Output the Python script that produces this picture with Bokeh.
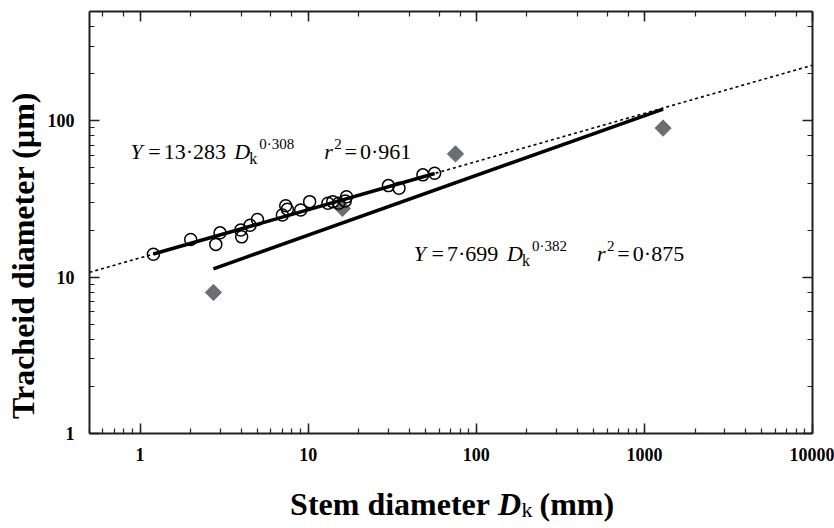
import numpy as np
from bokeh.plotting import figure
from bokeh.layouts import column
from bokeh.models import Label, LogAxis, PrintfTickFormatter, Range1d
from bokeh.embed import file_html
from bokeh.resources import INLINE

# ---- data ----
small_dk = [1.20, 2.00, 2.82, 2.99, 3.97, 4.02, 4.51, 4.99, 7.02, 7.35, 7.52, 9.02,
            10.2, 13.1, 14.0, 15.2, 16.9, 16.6, 30.0, 34.7, 48.1, 56.5]
small_td = [14.0, 17.4, 16.2, 19.2, 20.0, 18.1, 21.5, 23.4, 25.0, 28.6, 27.2, 26.9,
            30.4, 29.7, 30.4, 29.7, 32.7, 30.7, 38.5, 37.0, 45.1, 46.2]
large_dk = [2.73, 16.0, 75.2, 1292.0]
large_td = [7.98, 27.5, 61.4, 89.8]

fit1_a, fit1_b = 13.283, 0.308
fit2_a, fit2_b = 7.699, 0.382
x_lo, x_hi = 0.5, 10000
y_lo, y_hi = 1, 500

FONT = "Liberation Serif"
TOP_H = 473          # height of the main figure; the x-axis title strip sits below it
BL, BR, BT = 89, 22, 11

p = figure(width=834, height=TOP_H, x_axis_type="log", y_axis_type="log",
           x_range=Range1d(x_lo, x_hi), y_range=Range1d(y_lo, y_hi),
           output_backend="svg", toolbar_location=None,
           min_border_left=BL, min_border_right=BR, min_border_top=BT,
           min_border_bottom=40)
p.grid.visible = False
p.outline_line_color = None
p.background_fill_color = "white"
p.border_fill_color = "white"

top = LogAxis()
right = LogAxis()
p.add_layout(top, "above")
p.add_layout(right, "right")

bottom = p.below[0]
left = p.left[0]
for ax in [bottom, left, top, right]:
    ax.major_tick_in = 10
    ax.major_tick_out = 0
    ax.minor_tick_in = 5
    ax.minor_tick_out = 0
    ax.axis_line_width = 2
    ax.axis_line_color = "#231f20"
    ax.major_tick_line_color = "#231f20"
    ax.minor_tick_line_color = "#231f20"
    ax.major_tick_line_width = 1.5
    ax.minor_tick_line_width = 1.2
    ax.formatter = PrintfTickFormatter(format="%d")
    ax.major_label_text_font = FONT
    ax.major_label_text_font_style = "bold"
    ax.major_label_text_font_size = "18px"
    ax.major_label_text_color = "black"
for ax in [top, right]:
    ax.major_label_text_color = None
    ax.major_label_text_font_size = "1px"
    ax.major_label_standoff = 0
bottom.major_label_standoff = 14
left.major_label_standoff = 15

# diamonds (large)
p.scatter(large_dk, large_td, marker="square", size=11.5, angle=np.pi / 4,
          fill_color="#6d6e71", line_color="#6d6e71")

# fit lines
xd = [x_lo, x_hi]
p.line(xd, [fit1_a * v ** fit1_b for v in xd], line_color="black",
       line_width=1.6, line_dash="3 3")
xs1 = [min(small_dk), max(small_dk)]
p.line(xs1, [fit1_a * v ** fit1_b for v in xs1], line_color="black", line_width=3.5)
xs2 = [min(large_dk), max(large_dk)]
p.line(xs2, [fit2_a * v ** fit2_b for v in xs2], line_color="black", line_width=3.5)

# circles (small)
p.scatter(small_dk, small_td, marker="circle", size=12, fill_color=None,
          line_color="black", line_width=1.5)

# ---- text helpers ----
FL, FB = BL, 433


def piece(fig, text, px, py, size, style="normal", fl=FL, fb=FB, align="left"):
    fig.add_layout(Label(x=px - fl, y=fb - py, x_units="screen", y_units="screen",
                         text=text, text_font=FONT, text_font_size=f"{size}px",
                         text_font_style=style, text_align=align,
                         text_baseline="alphabetic", text_color="black"))


def equation(x0, base, coef, expo, r2, extra):
    m, sub, sup = 22, 16, 15
    piece(p, "Y", x0, base, m, "italic")
    piece(p, "=", x0 + 17.7, base, m)
    piece(p, coef, x0 + 33.2, base, m)
    piece(p, "D", x0 + 93.2 + extra, base, m, "italic")
    piece(p, "k", x0 + 108.2 + extra, base + 7, sub)
    piece(p, expo, x0 + 118.2 + extra, base - 8, sup)
    piece(p, "r", x0 + 183.2 + extra, base, m, "italic")
    piece(p, "2", x0 + 193.2 + extra, base - 8, sup)
    piece(p, "=", x0 + 203.5 + extra, base, m)
    piece(p, r2, x0 + 219 + extra, base, m)


equation(130, 151, "13·283", "0·308", "0·961", 10.5)
equation(413.3, 253, "7·699", "0·382", "0·875", 0)

# y-axis title, in the left side panel (canvas units, not clipped)
p.add_layout(Label(x=22, y=255, x_units="canvas", y_units="canvas",
                   text="Tracheid diameter (µm)", text_font=FONT,
                   text_font_size="32px", text_font_style="bold",
                   text_align="center", text_baseline="alphabetic", angle=np.pi / 2,
                   text_color="black"), "left")

# x-axis title strip below the main figure (frame aligned with the main frame)
p2 = figure(width=834, height=528 - TOP_H, x_range=Range1d(0, 1), y_range=Range1d(0, 1),
            output_backend="svg", toolbar_location=None,
            min_border_left=BL, min_border_right=BR, min_border_top=0,
            min_border_bottom=0)
p2.xaxis.visible = False
p2.yaxis.visible = False
p2.grid.visible = False
p2.outline_line_color = None
p2.background_fill_color = "white"
p2.border_fill_color = "white"

XB = 503
piece(p2, "Stem diameter ", 497.5, XB, 32, "bold", fb=528, align="right")
piece(p2, "D", 497.5, XB, 32, "bold italic", fb=528)
piece(p2, "k", 521, XB + 6, 22, "normal", fb=528)
piece(p2, "(mm)", 539, XB, 32, "bold", fb=528)

open("out.html", "w").write(file_html(column(p, p2, spacing=0), INLINE))
